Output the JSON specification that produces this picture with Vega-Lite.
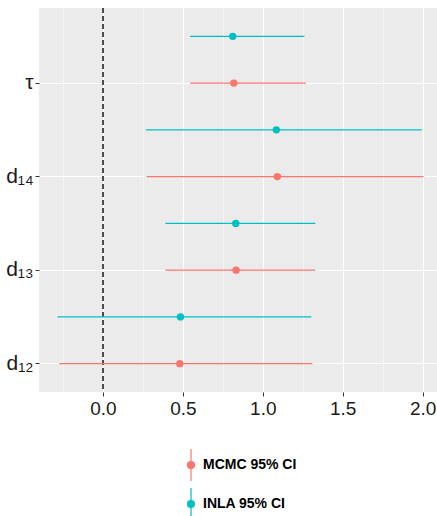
{
  "$schema": "https://vega.github.io/schema/vega-lite/v6.json",
  "width": 398,
  "height": 384,
  "autosize": {"type": "none"},
  "padding": {"left": 39, "top": 8, "right": 0, "bottom": 124},
  "background": "white",
  "config": {
    "view": {"fill": "#EBEBEB", "stroke": null},
    "font": "Liberation Sans"
  },
  "data": {
    "values": [
      {"param": "tau", "method": "INLA 95% CI", "est": 0.812, "lo": 0.546, "hi": 1.26},
      {"param": "tau", "method": "MCMC 95% CI", "est": 0.819, "lo": 0.546, "hi": 1.27},
      {"param": "d14", "method": "INLA 95% CI", "est": 1.085, "lo": 0.269, "hi": 1.994},
      {"param": "d14", "method": "MCMC 95% CI", "est": 1.091, "lo": 0.273, "hi": 2.006},
      {"param": "d13", "method": "INLA 95% CI", "est": 0.831, "lo": 0.391, "hi": 1.329},
      {"param": "d13", "method": "MCMC 95% CI", "est": 0.833, "lo": 0.391, "hi": 1.329},
      {"param": "d12", "method": "INLA 95% CI", "est": 0.485, "lo": -0.284, "hi": 1.304},
      {"param": "d12", "method": "MCMC 95% CI", "est": 0.481, "lo": -0.273, "hi": 1.31}
    ]
  },
  "layer": [
    {
      "mark": {"type": "rule", "strokeDash": [5, 3], "color": "#4D4D4D", "strokeWidth": 1.1},
      "encoding": {"x": {"datum": 0, "type": "quantitative"}}
    },
    {
      "mark": {"type": "rule", "strokeWidth": 1.4},
      "encoding": {
        "x": {
          "field": "lo", "type": "quantitative", "title": null,
          "scale": {"domain": [-0.4, 2.09], "nice": false, "zero": false},
          "axis": {
            "values": [-0.25, 0, 0.25, 0.5, 0.75, 1, 1.25, 1.5, 1.75, 2],
            "labelExpr": "round(datum.value*4)%2===0 ? format(datum.value,'.1f') : ''",
            "domain": false,
            "grid": true,
            "gridColor": "white",
            "gridWidth": {"condition": {"test": "round(datum.value*4)%2===0", "value": 1.1}, "value": 0.55},
            "tickColor": "#333333",
            "tickSize": 4,
            "tickOpacity": {"condition": {"test": "round(datum.value*4)%2===0", "value": 1}, "value": 0},
            "labelFontSize": 19,
            "labelColor": "#1a1a1a",
            "labelPadding": 3
          }
        },
        "x2": {"field": "hi"},
        "y": {
          "field": "param", "type": "nominal", "title": null,
          "sort": ["tau", "d14", "d13", "d12"],
          "scale": {"type": "band", "paddingInner": 0, "paddingOuter": 0.053},
          "axis": {
            "bandPosition": 0.75,
            "labelOffset": 23.4,
            "labelExpr": "{'tau':'τ','d14':'d₁₄','d13':'d₁₃','d12':'d₁₂'}[datum.label]",
            "domain": false,
            "grid": true,
            "gridColor": "white",
            "gridWidth": 1.1,
            "tickColor": "#333333",
            "tickSize": 4,
            "labelFontSize": 21,
            "labelColor": "#1a1a1a",
            "labelPadding": 2
          }
        },
        "yOffset": {
          "field": "method", "type": "nominal",
          "sort": ["INLA 95% CI", "MCMC 95% CI"],
          "scale": {"type": "band", "paddingInner": 0, "paddingOuter": 0}
        },
        "color": {
          "field": "method", "type": "nominal",
          "scale": {"domain": ["MCMC 95% CI", "INLA 95% CI"], "range": ["#F8766D", "#00BFC4"]},
          "legend": {
            "title": null,
            "orient": "none",
            "legendX": 141,
            "legendY": 446,
            "labelFontWeight": "bold",
            "labelFontSize": 14,
            "labelColor": "black",
            "labelOffset": 1,
            "symbolType": "M0,-1.6L0,1.6M0.35,0A0.35,0.35,0,1,1,-0.35,0A0.35,0.35,0,1,1,0.35,0Z",
            "symbolSize": 400,
            "symbolStrokeWidth": 1.2,
            "rowPadding": 1
          }
        }
      }
    },
    {
      "mark": {"type": "point", "filled": true, "size": 55, "opacity": 1},
      "encoding": {
        "x": {"field": "est", "type": "quantitative"},
        "y": {"field": "param", "type": "nominal", "sort": ["tau", "d14", "d13", "d12"]},
        "yOffset": {"field": "method", "type": "nominal", "sort": ["INLA 95% CI", "MCMC 95% CI"]},
        "color": {"field": "method", "type": "nominal"}
      }
    }
  ]
}
